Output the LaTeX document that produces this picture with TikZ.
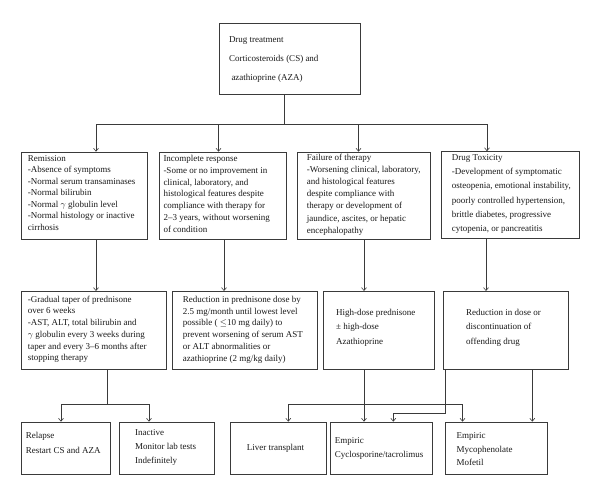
\documentclass[tikz,border=0pt]{standalone}
\usepackage{fontspec}
\setmainfont{Liberation Serif}
\usetikzlibrary{arrows.meta}
\definecolor{lc}{HTML}{3A3A3A}
\begin{document}
\begin{tikzpicture}[x=1pt,y=-1pt,
  box/.style={draw=lc, line width=0.8pt, inner sep=0, anchor=north west},
  txt/.style={anchor=north west, inner sep=0, align=left, text=black!90, font=\fontsize{9}{#1}\selectfont},
  txt/.default=11.5,
  ln/.style={draw=lc, line width=0.8pt},
  arr/.style={ln, -{Straight Barb[length=3pt,width=5pt,line width=0.6pt]}}]
\useasboundingbox (0,0) rectangle (600,495);
% boxes
\node[box, minimum width=141, minimum height=71.5] (top) at (219,23) {};
\node[box, minimum width=126.6, minimum height=87] (rem) at (20.7,151.7) {};
\node[box, minimum width=127, minimum height=87] (inc) at (158.7,151.7) {};
\node[box, minimum width=133, minimum height=87] (fail) at (296.7,151.7) {};
\node[box, minimum width=138.6, minimum height=87] (tox) at (440.7,151.2) {};
\node[box, minimum width=145.3, minimum height=78.3] (b31) at (20.7,291) {};
\node[box, minimum width=145.6, minimum height=78.3] (b32) at (171.7,291) {};
\node[box, minimum width=111, minimum height=78.3] (b33) at (323,291) {};
\node[box, minimum width=124.4, minimum height=78.3] (b34) at (443.3,291) {};
\node[box, minimum width=89.6, minimum height=52.3] (rel) at (20.7,421.7) {};
\node[box, minimum width=95, minimum height=52.3] (ina) at (118.7,421.7) {};
\node[box, minimum width=95.7, minimum height=52.3] (liv) at (230,421.7) {};
\node[box, minimum width=101.7, minimum height=52.3] (cyc) at (330,421.7) {};
\node[box, minimum width=101.7, minimum height=52.3] (myc) at (445.3,421.7) {};
% texts
\node[txt=19] (ttop) at (228.8,36.8) {Drug treatment\\Corticosteroids (CS) and\\\hspace*{2.5pt}azathioprine (AZA)};
\node[txt=11.5] (trem) at (27.7,155) {Remission\\-Absence of symptoms\\-Normal serum transaminases\\-Normal bilirubin\\-Normal $\gamma$ globulin level\\-Normal histology or inactive\\cirrhosis};
\node[txt=11.8] (tinc) at (163.3,155) {Incomplete response\\-Some or no improvement in\\clinical, laboratory, and\\histological features despite\\compliance with therapy for\\2--3 years, without worsening\\of condition};
\node[txt=12.1] (tfail) at (306.7,154) {Failure of therapy\\-Worsening clinical, laboratory,\\and histological features\\despite compliance with\\therapy or development of\\jaundice, ascites, or hepatic\\encephalopathy};
\node[txt=14.3] (ttox) at (451.7,154) {Drug Toxicity\\-Development of symptomatic\\osteopenia, emotional instability,\\poorly controlled hypertension,\\brittle diabetes, progressive\\cytopenia, or pancreatitis};
\node[txt=11.7] (t31) at (27.7,295.7) {-Gradual taper of prednisone\\over 6 weeks\\-AST, ALT, total bilirubin and\\$\gamma$ globulin every 3 weeks during\\taper and every 3--6 months after\\stopping therapy};
\node[txt=11.9] (t32) at (182.7,295.7) {Reduction in prednisone dose by\\2.5 mg/month until lowest level\\possible ( $\leq$10 mg daily) to\\prevent worsening of serum AST\\or ALT abnormalities or\\azathioprine (2 mg/kg daily)};
\node[txt=14.3] (t33) at (336,309) {High-dose prednisone\\± high-dose\\Azathioprine};
\node[txt=14.3] (t34) at (466,309) {Reduction in dose or\\discontinuation of\\offending drug};
\node[txt=15] (trel) at (25.7,431.7) {Relapse\\Restart CS and AZA};
\node[txt=14.3] (tina) at (135,429) {Inactive\\Monitor lab tests\\Indefinitely};
\node[txt] (tliv) at (246.7,444.4) {Liver transplant};
\node[txt=14.3] (tcyc) at (334.7,437.4) {Empiric\\Cyclosporine/tacrolimus};
\node[txt=13.5] (tmyc) at (456.5,432.4) {Empiric\\Mycophenolate\\Mofetil};
% connectors top -> row 2
\coordinate (t0) at (284,124);
\coordinate (hL) at (96,124);
\coordinate (hR) at (487,124);
\draw[ln] (top.south -| t0) -- (t0);
\draw[ln] (hL) -- (hR);
\draw[arr] (hL) -- (hL |- rem.north);
\draw[arr] (218.5,124) -- (inc.north -| 218.5,0);
\draw[arr] (358.5,124) -- (fail.north -| 358.5,0);
\draw[arr] (hR) -- (hR |- tox.north);
% row 2 -> row 3
\draw[arr] (rem.south -| 96,0) -- (b31.north -| 96,0);
\draw[arr] (inc.south -| 224,0) -- (b32.north -| 224,0);
\draw[arr] (fail.south -| 364,0) -- (b33.north -| 364,0);
\draw[arr] (tox.south -| 486,0) -- (b34.north -| 486,0);
% row 3 -> row 4
\coordinate (j1) at (107.5,404.3);
\draw[ln] (b31.south -| j1) -- (j1);
\draw[arr] (j1) -| (rel.north -| 61,0);
\draw[arr] (j1) -| (ina.north -| 149,0);
\coordinate (j3) at (364,404.3);
\draw[arr] (b33.south -| j3) -- (cyc.north -| j3);
\draw[arr] (j3) -| (liv.north -| 288.3,0);
\draw[arr] (j3) -| (myc.north -| 462.5,0);
\coordinate (j4) at (445.3,413);
\draw[arr] (b34.south -| j4) -- (j4) -| (cyc.north -| 393.3,0);
\draw[arr] (b34.south -| 532.3,0) -- (myc.north -| 532.3,0);
\end{tikzpicture}
\end{document}
